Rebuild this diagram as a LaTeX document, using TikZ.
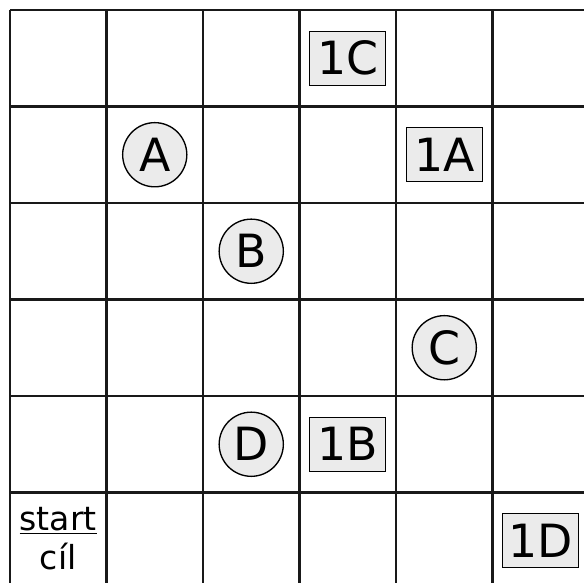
\documentclass[tikz,border=0pt]{standalone}
\usepackage{fontspec}
\setmainfont{DejaVu Sans}
\begin{document}
\begin{tikzpicture}[
    ring/.style={circle, draw=black, line width=0.8pt, fill=black!8, inner sep=0pt, minimum size=1.33cm, font=\fontsize{27}{30}\selectfont},
    tag/.style={rectangle, draw=black, line width=0.7pt, fill=black!8, inner sep=0pt, minimum width=1.575cm, minimum height=1.12cm, font=\fontsize{27}{30}\selectfont}
  ]
  \useasboundingbox (-0.207,0.145) rectangle (11.896,12.207);
  % 绘制网格
  \draw[line width=1.6pt, black!90] (0,0) grid[step=2] (12,12);

  % 圆形标记
  \node[ring] (A) at (3,9) {A};
  \node[ring] (B) at (5,7) {B};
  \node[ring] (C) at (9,5) {C};
  \node[ring] (D) at (5,3) {D};

  % 方形标记
  \node[tag] (1C) at (7,11) {1C};
  \node[tag] (1A) at (9,9) {1A};
  \node[tag] (1B) at (7,3) {1B};
  \node[tag] (1D) at (11,1) {1D};

  \node[align=center, inner sep=0pt, font=\fontsize{19.5}{23}\selectfont] (start) at (1,1.05) {\underline{start}\\cíl};
\end{tikzpicture}
\end{document}
